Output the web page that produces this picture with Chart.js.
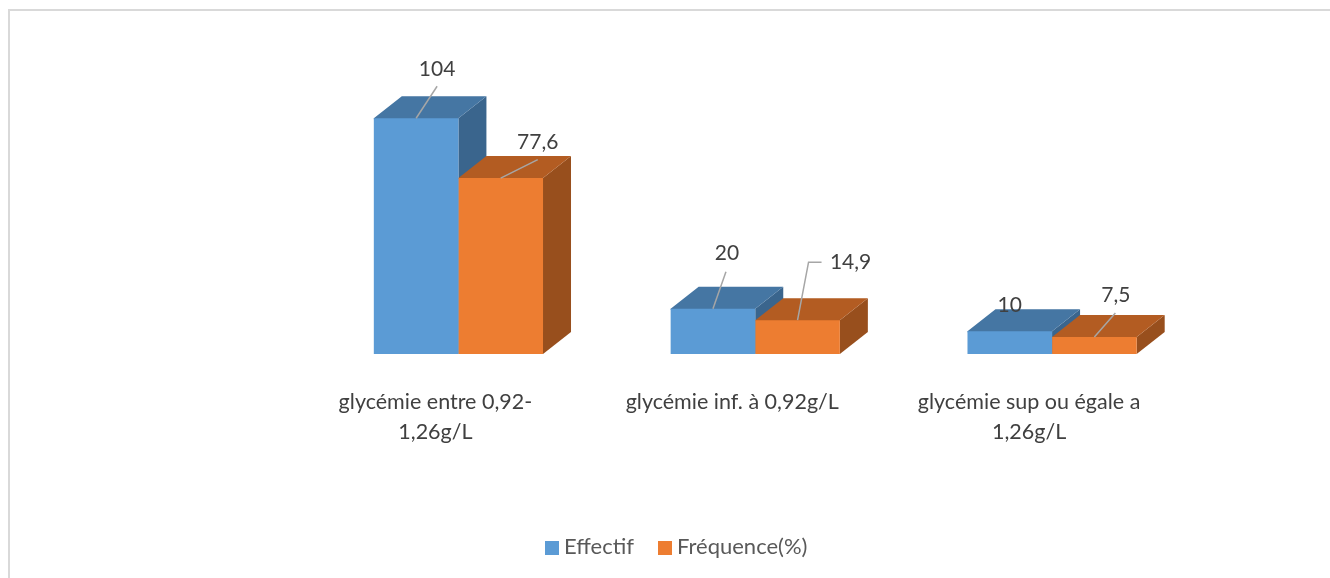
<!DOCTYPE html>
<html lang="fr">
<head>
<meta charset="utf-8">
<title>Glycémie</title>
<script src="https://cdn.jsdelivr.net/npm/chart.js@4/dist/chart.umd.min.js"></script>
<style>
  html, body { margin: 0; background: #fff; overflow: hidden; }
  #chart { display: block; }
  #frame {
    position: absolute; left: 8px; top: 9px; right: 0; bottom: 0;
    border-left: 2px solid #d9d9d9; border-top: 2px solid #d9d9d9;
    pointer-events: none;
  }
</style>
</head>
<body>
<canvas id="chart" width="1330" height="578"></canvas>
<div id="frame"></div>
<script>
const categories = [
  ['glycémie entre 0,92-', '1,26g/L'],
  ['glycémie inf. à 0,92g/L'],
  ['glycémie sup ou égale a', '1,26g/L']
];
const effectif = [104, 20, 10];
const frequence = [77.6, 14.9, 7.5];

// Label placement relative to the top-centre of each bar.
// label = text centre, leader = polyline points from the bar to the text
const effectifLabels = [
  { label: [21, -49], leader: [[21, -32]] },
  { label: [14, -55], leader: [[13, -37]] },
  { label: [0, -26], leader: [] }
];
const frequenceLabels = [
  { label: [37, -36], leader: [[37, -18.5]] },
  { label: [53, -58], leader: [[11, -58], [24, -58]] },
  { label: [21.5, -42], leader: [[21, -24]] }
];

// Legend entries: left edge of the swatch and of the text
const legendSlots = [
  { box: 545, text: 564 },
  { box: 658, text: 677 }
];

const FONT = 'Lato, "Open Sans", sans-serif';
const DEPTH_X = 28;
const DEPTH_Y = 22;

function polygon(ctx, points, color) {
  ctx.fillStyle = color;
  ctx.beginPath();
  points.forEach((p, i) => i ? ctx.lineTo(p[0], p[1]) : ctx.moveTo(p[0], p[1]));
  ctx.closePath();
  ctx.fill();
}

// Top and side faces of the boxes, drawn behind the flat fronts.
// The top face runs 1px under the front so no seam shows.
const boxFaces = {
  id: 'boxFaces',
  beforeDatasetsDraw(chart) {
    const ctx = chart.ctx;
    ctx.save();
    chart.data.datasets.forEach((ds, d) => {
      chart.getDatasetMeta(d).data.forEach(bar => {
        const left = bar.x - bar.width / 2;
        const right = bar.x + bar.width / 2;
        polygon(ctx, [[right, bar.y], [right + DEPTH_X, bar.y - DEPTH_Y], [right + DEPTH_X, bar.base - DEPTH_Y], [right, bar.base]], ds.sideColor);
        polygon(ctx, [[left, bar.y + 1], [left, bar.y], [left + DEPTH_X, bar.y - DEPTH_Y], [right + DEPTH_X, bar.y - DEPTH_Y], [right, bar.y], [right, bar.y + 1]], ds.topColor);
      });
    });
    ctx.restore();
  }
};

// Value labels with their grey leader lines
const valueLabels = {
  id: 'valueLabels',
  afterDatasetsDraw(chart) {
    const ctx = chart.ctx;
    ctx.save();
    ctx.font = '21px ' + FONT;
    ctx.textAlign = 'center';
    ctx.textBaseline = 'middle';
    chart.data.datasets.forEach((ds, d) => {
      chart.getDatasetMeta(d).data.forEach((bar, i) => {
        const place = ds.labelPlaces[i];
        if (place.leader.length) {
          ctx.strokeStyle = '#a6a6a6';
          ctx.lineWidth = 1.5;
          ctx.beginPath();
          ctx.moveTo(bar.x, bar.y);
          place.leader.forEach(p => ctx.lineTo(bar.x + p[0], bar.y + p[1]));
          ctx.stroke();
        }
        ctx.fillStyle = '#404040';
        ctx.fillText(String(ds.data[i]).replace('.', ','), bar.x + place.label[0], bar.y + place.label[1]);
      });
    });
    ctx.restore();
  }
};

// Legend drawn by hand: the built-in one forces a wider swatch-to-text gap
const bottomLegend = {
  id: 'bottomLegend',
  afterDraw(chart) {
    const ctx = chart.ctx;
    ctx.save();
    ctx.font = '22px ' + FONT;
    ctx.textAlign = 'left';
    ctx.textBaseline = 'middle';
    chart.data.datasets.forEach((ds, d) => {
      ctx.fillStyle = ds.backgroundColor;
      ctx.fillRect(legendSlots[d].box, 541, 14, 14);
      ctx.fillStyle = '#595959';
      ctx.fillText(ds.label, legendSlots[d].text, 547);
    });
    ctx.restore();
  }
};

new Chart(document.getElementById('chart'), {
  type: 'bar',
  data: {
    labels: categories,
    datasets: [
      {
        label: 'Effectif',
        data: effectif,
        backgroundColor: '#5b9bd5',
        topColor: '#4576a3',
        sideColor: '#3a658d',
        labelPlaces: effectifLabels
      },
      {
        label: 'Fréquence(%)',
        data: frequence,
        backgroundColor: '#ed7d31',
        topColor: '#b35c22',
        sideColor: '#984f1d',
        labelPlaces: frequenceLabels
      }
    ]
  },
  plugins: [boxFaces, valueLabels, bottomLegend],
  options: {
    responsive: false,
    animation: false,
    layout: { padding: { left: 310, right: 129.5, top: 82, bottom: 0 } },
    datasets: { bar: { categoryPercentage: 0.57, barPercentage: 1 } },
    scales: {
      x: {
        grid: { display: false },
        border: { display: false },
        ticks: {
          color: '#404040',
          font: { family: FONT, size: 21.5, lineHeight: 1.4 },
          padding: 25,
          labelOffset: -23,
          maxRotation: 0,
          autoSkip: false
        },
        afterFit(scale) { scale.height = 224; }
      },
      y: { display: false, min: 0, max: 120 }
    },
    plugins: {
      legend: { display: false },
      tooltip: { enabled: false }
    }
  }
});
</script>
</body>
</html>
